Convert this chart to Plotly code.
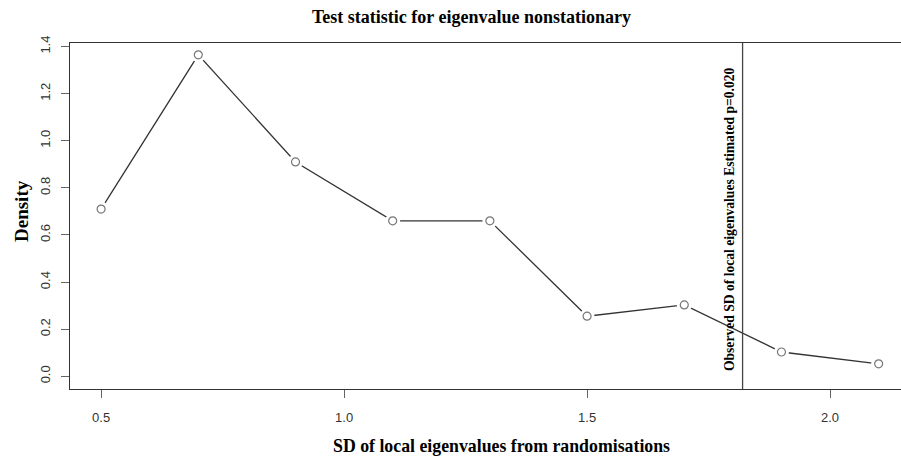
import plotly.graph_objects as go

sd_values = [0.5, 0.7, 0.9, 1.1, 1.3, 1.5, 1.7, 1.9, 2.1]
density = [0.71, 1.365, 0.91, 0.66, 0.66, 0.255, 0.303, 0.103, 0.053]
observed_sd = 1.82
x_ticks = [0.5, 1.0, 1.5, 2.0]
y_ticks = [0.0, 0.2, 0.4, 0.6, 0.8, 1.0, 1.2, 1.4]

title_text = "Test statistic for eigenvalue nonstationary"
x_title = "SD of local eigenvalues from randomisations"
y_title = "Density"
line_label = "Observed SD of local eigenvalues Estimated p=0.020"

serif = "Liberation Serif, Times New Roman, serif"
sans = "Liberation Sans, Arial, sans-serif"

W, H = 901, 462
L, R, T, B = 70, 0, 43, 73
PW, PH = W - L - R, H - T - B

def px(xp):
    return (xp - L) / PW

def py(yp):
    return (H - B - yp) / PH

fig = go.Figure()
fig.add_trace(go.Scatter(x=sd_values, y=density, mode="lines",
                         line=dict(color="#333333", width=1.3), hoverinfo="skip"))
# white halo to create gaps around points (R type="b")
fig.add_trace(go.Scatter(x=sd_values, y=density, mode="markers",
                         marker=dict(size=15, color="white", line=dict(width=0)), hoverinfo="skip"))
fig.add_trace(go.Scatter(x=sd_values, y=density, mode="markers",
                         marker=dict(size=8, color="white", symbol="circle",
                                     line=dict(color="#777777", width=1.2))))

fig.add_shape(type="line", xref="x", yref="paper", x0=observed_sd, x1=observed_sd, y0=0, y1=1,
              line=dict(color="#444444", width=1.3))
fig.add_annotation(x=observed_sd, xref="x", xanchor="right", xshift=-4,
                   y=py(219), yref="paper", yanchor="middle", text="<b>" + line_label + "</b>",
                   textangle=-90, showarrow=False,
                   font=dict(family=serif, size=13.6, color="black"))

fig.add_annotation(text="<b>" + title_text + "</b>", xref="paper", yref="paper",
                   x=px(471), y=py(17), xanchor="center", yanchor="middle",
                   showarrow=False, font=dict(family=serif, size=18, color="black"))
fig.add_annotation(text="<b>" + x_title + "</b>", xref="paper", yref="paper",
                   x=px(502), y=py(446), xanchor="center", yanchor="middle",
                   showarrow=False, font=dict(family=serif, size=17.8, color="black"))
fig.add_annotation(text="<b>" + y_title + "</b>", xref="paper", yref="paper",
                   x=px(21), y=py(211), xanchor="center", yanchor="middle", textangle=-90,
                   showarrow=False, font=dict(family=serif, size=19, color="black"))

fig.update_layout(
    width=W, height=H,
    margin=dict(l=L, r=R, t=T, b=B, autoexpand=False),
    paper_bgcolor="white", plot_bgcolor="white",
    showlegend=False,
    font=dict(family=sans, color="#333333", size=12),
    xaxis=dict(range=[0.436, 2.146], tickvals=x_ticks, ticktext=["0.5", "1.0", "1.5", "2.0"],
               showgrid=False, zeroline=False, showline=True, mirror=True, automargin=False,
               linecolor="#333333", linewidth=1.3, ticks="outside", ticklen=8,
               tickcolor="#666666", tickwidth=1, ticklabelstandoff=8,
               tickfont=dict(family=sans, size=13, color="#333333")),
    yaxis=dict(range=[-0.054, 1.415], tickvals=y_ticks,
               ticktext=["0.0", "0.2", "0.4", "0.6", "0.8", "1.0", "1.2", "1.4"],
               showgrid=False, zeroline=False, showline=True, mirror=False, automargin=False,
               linecolor="#333333", linewidth=1.3, ticks="outside", ticklen=8,
               tickcolor="#666666", tickwidth=1, tickangle=-90, ticklabelstandoff=6,
               tickfont=dict(family=sans, size=13, color="#333333")),
)

fig.write_html("out.html", config={"displayModeBar": False},
               post_script="document.body.style.margin='0';document.body.style.overflow='hidden';")
